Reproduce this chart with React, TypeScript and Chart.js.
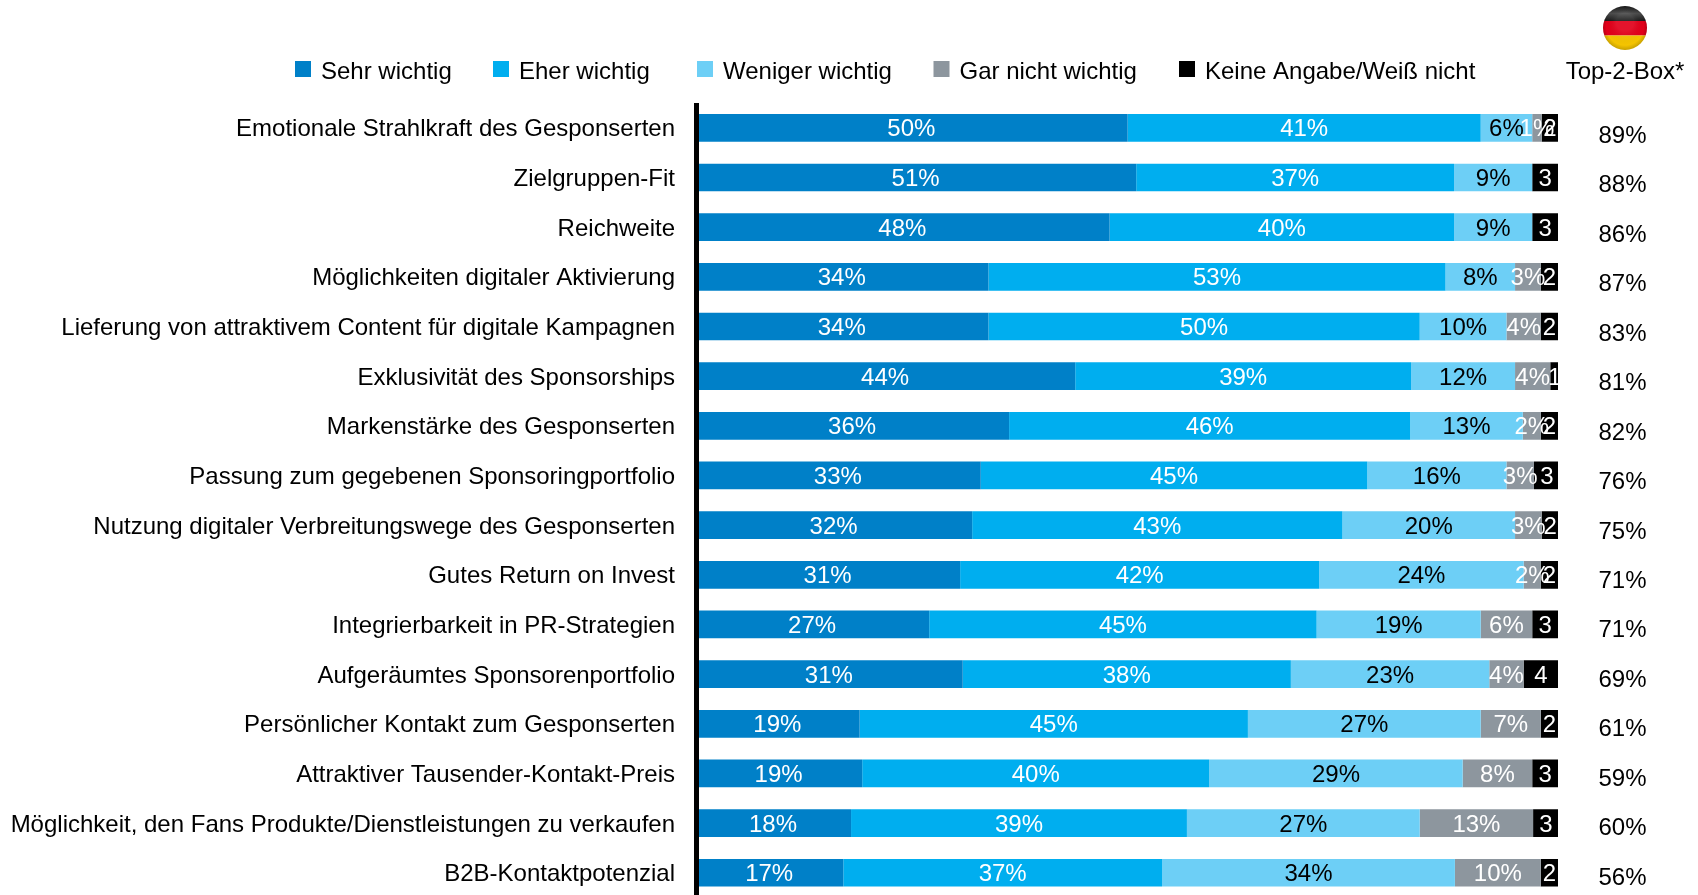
import React, { useEffect, useRef } from "react";
import { Chart, registerables } from "chart.js";

Chart.register(...registerables);

const categories = [
  "Emotionale Strahlkraft des Gesponserten",
  "Zielgruppen-Fit",
  "Reichweite",
  "Möglichkeiten digitaler Aktivierung",
  "Lieferung von attraktivem Content für digitale Kampagnen",
  "Exklusivität des Sponsorships",
  "Markenstärke des Gesponserten",
  "Passung zum gegebenen Sponsoringportfolio",
  "Nutzung digitaler Verbreitungswege des Gesponserten",
  "Gutes Return on Invest",
  "Integrierbarkeit in PR-Strategien",
  "Aufgeräumtes Sponsorenportfolio",
  "Persönlicher Kontakt zum Gesponserten",
  "Attraktiver Tausender-Kontakt-Preis",
  "Möglichkeit, den Fans Produkte/Dienstleistungen zu verkaufen",
  "B2B-Kontaktpotenzial",
];

const sehrWichtig = [49.9, 50.9, 47.8, 33.7, 33.7, 43.8, 36.1, 32.8, 31.8, 30.4, 26.8, 30.7, 18.7, 19, 17.7, 16.8];
const eherWichtig = [41.1, 37, 40.1, 53.2, 50.2, 39.1, 46.7, 45, 43.1, 41.8, 45.1, 38.2, 45.2, 40.4, 39.1, 37.1];
const wenigerWichtig = [6, 9.1, 9.1, 8.1, 10.1, 12.1, 13.1, 16.2, 20.1, 23.8, 19.1, 23.1, 27.1, 29.5, 27.1, 34.1];
const garNichtWichtig = [1.1, 0, 0, 3, 4, 4.1, 2.1, 3.2, 3.1, 2, 6, 4, 7, 8.1, 13.2, 10];
const keineAngabe = [1.9, 3, 3, 2, 2, 1, 2, 3, 2, 2, 3, 4, 2, 3, 3, 2];

const sehrLabels = ["50%", "51%", "48%", "34%", "34%", "44%", "36%", "33%", "32%", "31%", "27%", "31%", "19%", "19%", "18%", "17%"];
const eherLabels = ["41%", "37%", "40%", "53%", "50%", "39%", "46%", "45%", "43%", "42%", "45%", "38%", "45%", "40%", "39%", "37%"];
const wenigerLabels = ["6%", "9%", "9%", "8%", "10%", "12%", "13%", "16%", "20%", "24%", "19%", "23%", "27%", "29%", "27%", "34%"];
const garLabels = ["1%", "", "", "3%", "4%", "4%", "2%", "3%", "3%", "2%", "6%", "4%", "7%", "8%", "13%", "10%"];
const keineLabels = ["2", "3", "3", "2", "2", "1", "2", "3", "2", "2", "3", "4", "2", "3", "3", "2"];
const top2Box = ["89%", "88%", "86%", "87%", "83%", "81%", "82%", "76%", "75%", "71%", "71%", "69%", "61%", "59%", "60%", "56%"];

const seriesNames = ["Sehr wichtig", "Eher wichtig", "Weniger wichtig", "Gar nicht wichtig", "Keine Angabe/Weiß nicht"];
const seriesColors = ["#0080C8", "#00AEEF", "#6DCFF6", "#8D969E", "#000000"];
const labelColors = ["#FFFFFF", "#FFFFFF", "#000000", "#FFFFFF", "#FFFFFF"];
const top2Title = "Top-2-Box*";

const FONT = '"Liberation Sans", Arial, sans-serif';

const allValues = [sehrWichtig, eherWichtig, wenigerWichtig, garNichtWichtig, keineAngabe];
const allLabels = [sehrLabels, eherLabels, wenigerLabels, garLabels, keineLabels];

const legendBoxX = [295, 493, 697, 933.5, 1179];

const decorPlugin = {
  id: "decor",
  beforeDatasetsDraw(chart: any) {
    const { ctx, chartArea } = chart;
    ctx.save();
    ctx.fillStyle = "#000";
    ctx.fillRect(chartArea.left - 5, chartArea.top, 5, chartArea.bottom - chartArea.top);
    ctx.restore();
  },
  afterDatasetsDraw(chart: any) {
    const { ctx, scales } = chart;
    ctx.save();
    ctx.font = `24px ${FONT}`;
    ctx.textBaseline = "middle";
    ctx.textAlign = "center";
    // value labels, centred in each segment
    chart.data.datasets.forEach((ds: any, di: number) => {
      const meta = chart.getDatasetMeta(di);
      ctx.fillStyle = labelColors[di];
      meta.data.forEach((bar: any, i: number) => {
        const t = allLabels[di][i];
        if (!t) return;
        const p = bar.getProps(["x", "base", "y"], true);
        ctx.fillText(t, (p.x + p.base) / 2 - (di === 0 ? 2 : 0), p.y + 2);
      });
    });
    // Top-2-Box column
    ctx.fillStyle = "#000";
    top2Box.forEach((t, i) => {
      ctx.fillText(t, 1622.5, scales.y.getPixelForValue(i) + 8.5 - i * 0.21);
    });
    // legend
    ctx.textAlign = "left";
    ctx.textBaseline = "alphabetic";
    seriesNames.forEach((name, i) => {
      ctx.fillStyle = seriesColors[i];
      ctx.fillRect(legendBoxX[i], 61, 16, 16);
      ctx.fillStyle = "#000";
      ctx.fillText(name, legendBoxX[i] + 26, 79);
    });
    ctx.textAlign = "center";
    ctx.fillText(top2Title, 1625, 79);
    // flag
    const cx = 1625, cy = 28, r = 22;
    ctx.beginPath();
    ctx.arc(cx, cy, r, 0, Math.PI * 2);
    ctx.clip();
    ctx.fillStyle = "#1A1A1A";
    ctx.fillRect(cx - r, cy - r, 2 * r, 15);
    ctx.fillStyle = "#E2001A";
    ctx.fillRect(cx - r, cy - r + 15, 2 * r, 14.5);
    ctx.fillStyle = "#F4C400";
    ctx.fillRect(cx - r, cy - r + 29.5, 2 * r, 14.5);
    const gloss = ctx.createRadialGradient(cx, cy - 6, r * 0.4, cx, cy, r);
    gloss.addColorStop(0, "rgba(255,255,255,0.08)");
    gloss.addColorStop(0.75, "rgba(0,0,0,0)");
    gloss.addColorStop(1, "rgba(0,0,0,0.18)");
    ctx.fillStyle = gloss;
    ctx.fillRect(cx - r, cy - r, 2 * r, 2 * r);
    const shine = ctx.createLinearGradient(0, cy - r, 0, cy - r + 15);
    shine.addColorStop(0, "rgba(255,255,255,0)");
    shine.addColorStop(0.5, "rgba(255,255,255,0.22)");
    shine.addColorStop(1, "rgba(255,255,255,0)");
    ctx.fillStyle = shine;
    ctx.fillRect(cx - r, cy - r, 2 * r, 15);
    ctx.restore();
  },
};

export default function App() {
  const ref = useRef<HTMLCanvasElement>(null);
  useEffect(() => {
    document.body.style.margin = "0";
    document.body.style.overflow = "hidden";
    const chart = new Chart(ref.current as any, {
      type: "bar",
      data: {
        labels: categories,
        datasets: seriesNames.map((name, i) => ({
          label: name,
          data: allValues[i],
          backgroundColor: seriesColors[i],
          borderWidth: 0,
          categoryPercentage: 1,
          barPercentage: 27.7 / 49.66,
        })),
      },
      options: {
        indexAxis: "y",
        responsive: false,
        animation: false,
        layout: { padding: { top: 103, right: 140, bottom: 0, left: 0 } },
        plugins: { legend: { display: false }, tooltip: { enabled: false } },
        scales: {
          x: {
            stacked: true,
            min: 0,
            max: 100,
            display: false,
            ticks: { display: false },
            grid: { display: false },
          },
          y: {
            stacked: true,
            afterFit(scale: any) {
              scale.width = 699;
            },
            grid: { display: false, drawTicks: false },
            border: { display: false },
            ticks: {
              autoSkip: false,
              maxRotation: 0,
              minRotation: 0,
              padding: 24,
              labelOffset: 2,
              color: "#000",
              font: { family: FONT, size: 24 },
            },
          },
        },
      },
      plugins: [decorPlugin],
    } as any);
    return () => chart.destroy();
  }, []);
  return (
    <div style={{ width: 1698, height: 895, overflow: "hidden", background: "#fff" }}>
      <canvas ref={ref} width={1698} height={936} style={{ display: "block" }} />
    </div>
  );
}
